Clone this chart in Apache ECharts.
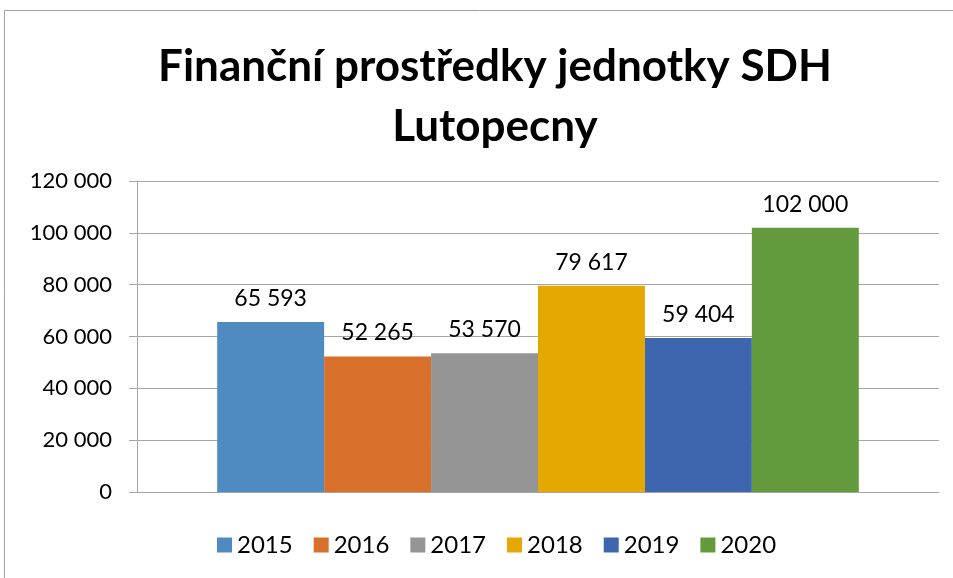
<!DOCTYPE html>
<html><head><meta charset="utf-8">
<script src="https://cdn.jsdelivr.net/npm/echarts@6/dist/echarts.min.js"></script>
<style>html,body{margin:0;padding:0;background:#fff}#c{width:953px;height:578px}</style>
</head><body><div id="c"></div>
<script>
const titleText = 'Finanční prostředky jednotky SDH\nLutopecny';
const years = ['2015','2016','2017','2018','2019','2020'];
const values = [65593, 52265, 53570, 79617, 59404, 102000];
const colors = ['#4f8bc0','#d86f2b','#959595','#e5a800','#3d66ae','#649a3e'];
const yTicks = {min:0, max:120000, interval:20000};
const FONT = 'Lato';
function fmt(v){return String(Math.round(v)).replace(/\B(?=(\d{3})+(?!\d))/g,' ');}
const chart = echarts.init(document.getElementById('c'));
chart.setOption({
  animation:false,
  title:{text:titleText,left:490,textAlign:'center',top:32,textStyle:{fontFamily:FONT,fontWeight:'bold',fontSize:44,lineHeight:60,color:'#000'}},
  graphic:[{type:'rect',shape:{x:4.5,y:10.5,width:1000,height:700},style:{fill:'none',stroke:'#a0a0a0',lineWidth:1}}],
  grid:{left:137,right:14,top:181,bottom:86},
  legend:{bottom:16,left:212,itemWidth:15,itemHeight:15,itemGap:21,icon:'rect',textStyle:{fontFamily:FONT,fontSize:24,color:'#000'}},
  xAxis:{type:'category',data:[''],axisTick:{show:false},axisLabel:{show:false},axisLine:{lineStyle:{color:'#a6a6a6'}}},
  yAxis:{type:'value',min:yTicks.min,max:yTicks.max,interval:yTicks.interval,
    axisLine:{show:true,lineStyle:{color:'#a6a6a6'}},axisTick:{show:true,length:8,lineStyle:{color:'#a6a6a6'}},
    splitLine:{lineStyle:{color:'#a6a6a6'}},
    axisLabel:{fontFamily:FONT,fontSize:22,color:'#000',margin:25,formatter:fmt}},
  series: years.map((y,i)=>({name:y,type:'bar',data:[values[i]],barGap:'0%',barCategoryGap:'20%',
    itemStyle:{color:colors[i]},
    label:{show:true,position:'top',distance:12,fontFamily:FONT,fontSize:23,color:'#000',formatter:p=>fmt(p.value)}}))
});
</script></body></html>
